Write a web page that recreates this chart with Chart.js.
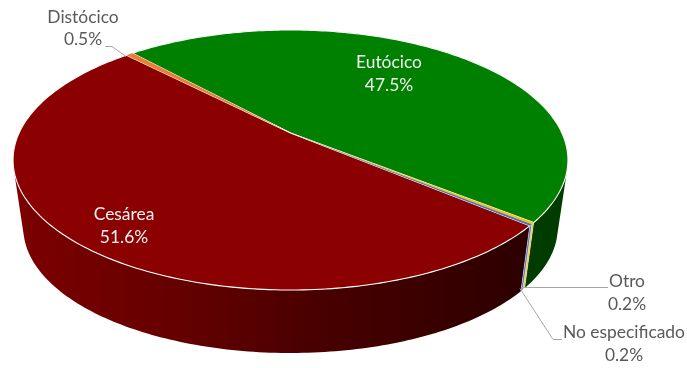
<!DOCTYPE html>
<html>
<head>
<meta charset="utf-8">
<style>
  html, body { margin: 0; background: #fff; }
  canvas { display: block; }
</style>
<script src="https://cdn.jsdelivr.net/npm/chart.js@4/dist/chart.umd.min.js"></script>
</head>
<body>
<canvas id="pieChart" width="687" height="368"></canvas>
<script>
const categories = ["Eutócico", "Otro", "No especificado", "Cesárea", "Distócico"];
const values = [47.5, 0.2, 0.2, 51.6, 0.5];
const valueLabels = ["47.5%", "0.2%", "0.2%", "51.6%", "0.5%"];
const colors = ["#008000", "#ffc000", "#4472c4", "#8b0000", "#ed7d31"];

// label centres, [x, first line y, second line y]
const labelSpots = [[389, 62, 85], [627, 281, 304], [624, 332, 355], [124, 214, 237], [83, 17, 39]];
const labelInk = ["#f2f2f2", "#595959", "#595959", "#f2f2f2", "#595959"];
const leaders = [
  [[522, 287], [608, 287]],
  [[520, 288], [553, 339], [562, 339]],
  [[105, 46], [112, 46], [126, 56]]
];

// the picture's tilted pie: apex, radius, foreshortening and perspective
const cx = 290.5, cy = 133, R = 271.4, A = 124.4, k = 0.2077;
// bottom rim is the top rim shrunk a little and pushed down
const floorScale = 0.963, floorY = 227.8, midY = 160;

function topPoint(angle) {
  const u = Math.cos(angle), v = Math.sin(angle), w = 1 - k * v;
  return [cx + R * u / w, cy + A * v / w];
}

function floorPoint(angle) {
  const p = topPoint(angle);
  return [cx + floorScale * (p[0] - cx), floorY + floorScale * (p[1] - midY)];
}

function rim(el, fn) {
  const pts = [], steps = Math.max(2, Math.ceil((el.endAngle - el.startAngle) * 60));
  for (let i = 0; i <= steps; i++) {
    pts.push(fn(el.startAngle + (el.endAngle - el.startAngle) * i / steps));
  }
  return pts;
}

function addPoly(ctx, pts) {
  pts.forEach((p, i) => (i ? ctx.lineTo(p[0], p[1]) : ctx.moveTo(p[0], p[1])));
  ctx.closePath();
}

function trace(ctx, pts) {
  ctx.beginPath();
  addPoly(ctx, pts);
}

// strips all wound the same way, so one fill covers them without seams
function traceWall(ctx, upper, lower) {
  ctx.beginPath();
  for (let s = 0; s < upper.length - 1; s++) {
    const quad = [upper[s], upper[s + 1], lower[s + 1], lower[s]];
    let area = 0;
    quad.forEach((p, j) => {
      const q = quad[(j + 1) % 4];
      area += p[0] * q[1] - q[0] * p[1];
    });
    addPoly(ctx, area < 0 ? quad.reverse() : quad);
  }
}

function wallFill(ctx, i) {
  if (i === 3) {
    const g = ctx.createLinearGradient(13, 0, 530, 0);
    g.addColorStop(0, "#7d0000");
    g.addColorStop(0.35, "#620000");
    g.addColorStop(0.6, "#480000");
    g.addColorStop(1, "#2c0000");
    return g;
  }
  if (i === 0) return "#003c00";
  return colors[i];
}

const pie3d = {
  id: "pie3d",
  beforeDatasetsDraw(chart) {
    const ctx = chart.ctx;
    const arcs = chart.getDatasetMeta(0).data;
    const big = [0, 3], thin = [1, 2, 4];

    big.concat(thin).forEach(i => {
      const upper = rim(arcs[i], topPoint), lower = rim(arcs[i], floorPoint);
      traceWall(ctx, upper, lower);
      ctx.fillStyle = wallFill(ctx, i);
      ctx.fill();
      if (thin.includes(i)) {
        trace(ctx, upper.concat(lower.reverse()));
        ctx.strokeStyle = "rgba(255,255,255,0.7)";
        ctx.lineWidth = 0.6;
        ctx.stroke();
      }
    });

    // thin slices go on last, unstroked: near the apex they fade into the white border
    big.concat(thin).forEach(i => {
      trace(ctx, [[cx, cy]].concat(rim(arcs[i], topPoint)));
      ctx.fillStyle = colors[i];
      ctx.fill();
      if (big.includes(i)) {
        ctx.strokeStyle = "#ffffff";
        ctx.lineWidth = 1.1;
        ctx.stroke();
      }
    });
    return false;
  },
  afterDraw(chart) {
    const ctx = chart.ctx;
    ctx.strokeStyle = "#a6a6a6";
    ctx.lineWidth = 1;
    leaders.forEach(line => {
      ctx.beginPath();
      line.forEach((p, i) => (i ? ctx.lineTo(p[0], p[1] + 0.5) : ctx.moveTo(p[0], p[1] + 0.5)));
      ctx.stroke();
    });

    ctx.font = "17.4px Lato";
    ctx.textAlign = "center";
    ctx.textBaseline = "middle";
    categories.forEach((name, i) => {
      ctx.fillStyle = labelInk[i];
      ctx.fillText(name, labelSpots[i][0], labelSpots[i][1]);
      ctx.fillText(valueLabels[i], labelSpots[i][0], labelSpots[i][2]);
    });
  }
};

new Chart(document.getElementById("pieChart"), {
  type: "pie",
  data: {
    labels: categories,
    datasets: [{ data: values, backgroundColor: colors, rotation: -42.2 }]
  },
  options: {
    responsive: false,
    animation: false,
    plugins: { legend: { display: false }, tooltip: { enabled: false } }
  },
  plugins: [pie3d]
});
</script>
</body>
</html>
